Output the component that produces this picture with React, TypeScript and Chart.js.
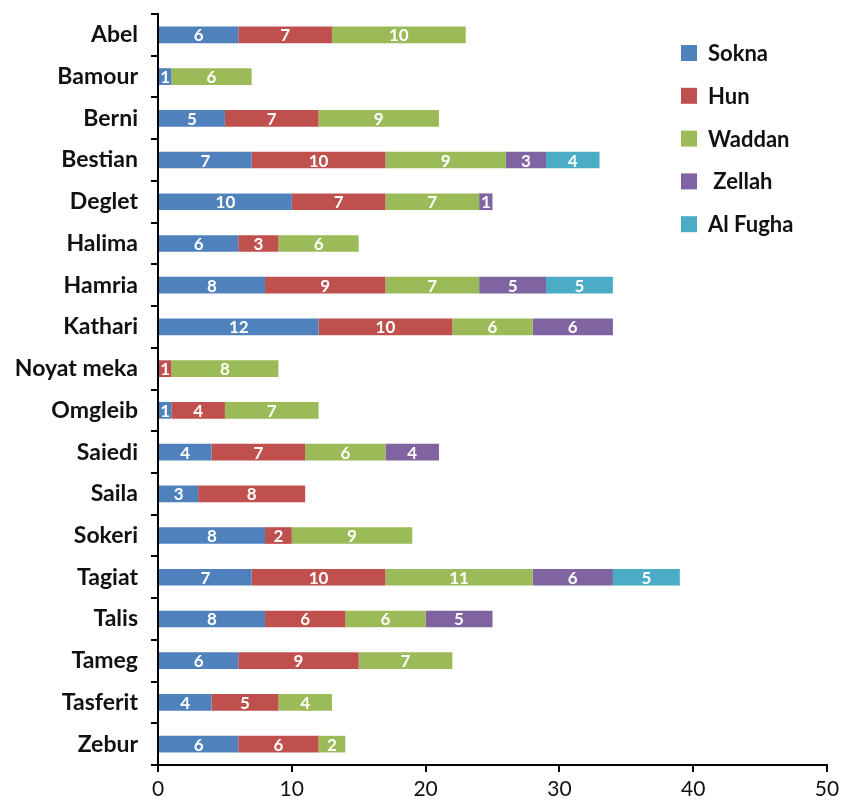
import React, { useEffect, useRef } from "react";
import { Chart, registerables } from "chart.js";

Chart.register(...registerables);

const categories = [
  "Abel", "Bamour", "Berni", "Bestian", "Deglet", "Halima", "Hamria", "Kathari",
  "Noyat meka", "Omgleib", "Saiedi", "Saila", "Sokeri", "Tagiat", "Talis", "Tameg",
  "Tasferit", "Zebur",
];

const sokna = [6, 1, 5, 7, 10, 6, 8, 12, null, 1, 4, 3, 8, 7, 8, 6, 4, 6];
const hun = [7, null, 7, 10, 7, 3, 9, 10, 1, 4, 7, 8, 2, 10, 6, 9, 5, 6];
const waddan = [10, 6, 9, 9, 7, 6, 7, 6, 8, 7, 6, null, 9, 11, 6, 7, 4, 2];
const zellah = [null, null, null, 3, 1, null, 5, 6, null, null, 4, null, null, 6, 5, null, null, null];
const alFugha = [null, null, null, 4, null, null, 5, null, null, null, null, null, null, 5, null, null, null, null];

const seriesNames = ["Sokna", "Hun", "Waddan", " Zellah", "Al Fugha"];
const seriesColors = ["#4F81BD", "#C0504D", "#9BBB59", "#8064A2", "#4BACC6"];
const xTicks = [0, 10, 20, 30, 40, 50];

const FONT = "Lato, 'Open Sans', sans-serif";

const segmentLabels = {
  id: "segmentLabels",
  afterDatasetsDraw(chart: any) {
    const ctx = chart.ctx;
    ctx.save();
    ctx.fillStyle = "#ffffff";
    ctx.font = `bold 17px ${FONT}`;
    ctx.textAlign = "center";
    ctx.textBaseline = "middle";
    chart.data.datasets.forEach((ds: any, di: number) => {
      const meta = chart.getDatasetMeta(di);
      meta.data.forEach((bar: any, i: number) => {
        const v = ds.data[i];
        if (v === null || v === undefined) return;
        const x = (bar.x + bar.base) / 2;
        ctx.fillText(String(v), x, bar.y + 1);
      });
    });
    ctx.restore();
  },
};

const innerLegend = {
  id: "innerLegend",
  afterDraw(chart: any) {
    const ctx = chart.ctx;
    ctx.save();
    ctx.font = `bold 22px ${FONT}`;
    ctx.textAlign = "left";
    ctx.textBaseline = "middle";
    chart.data.datasets.forEach((ds: any, i: number) => {
      const y = 53 + i * 42.8;
      ctx.fillStyle = ds.backgroundColor;
      ctx.fillRect(681, y - 8, 16, 16);
      ctx.fillStyle = "#111";
      ctx.fillText(ds.label, 708, y + 1);
    });
    ctx.restore();
  },
};

export default function App() {
  const ref = useRef<HTMLCanvasElement>(null);
  useEffect(() => {
    if (!ref.current) return;
    const allSeries = [sokna, hun, waddan, zellah, alFugha];
    const chart = new Chart(ref.current, {
      type: "bar",
      data: {
        labels: categories,
        datasets: allSeries.map((d, i) => ({
          label: seriesNames[i],
          data: d,
          backgroundColor: seriesColors[i],
          borderWidth: 0,
          barPercentage: 0.4,
          categoryPercentage: 1,
        })),
      },
      plugins: [segmentLabels, innerLegend],
      options: {
        indexAxis: "y",
        responsive: false,
        animation: false,
        layout: { padding: { top: 14, right: 32, left: 0, bottom: 0 } },
        plugins: {
          legend: { display: false },
          tooltip: { enabled: false },
        },
        scales: {
          x: {
            stacked: true,
            min: 0,
            max: 50,
            afterBuildTicks: (scale: any) => {
              scale.ticks = xTicks.map((v) => ({ value: v }));
            },
            afterFit: (scale: any) => {
              scale.height = 36;
              scale.paddingLeft = 0;
              scale.paddingRight = 0;
            },
            grid: {
              drawOnChartArea: false,
              drawTicks: true,
              tickLength: 7,
              color: "#000",
              lineWidth: 2,
            },
            border: { display: true, color: "#000", width: 2 },
            ticks: {
              color: "#111",
              font: { family: FONT, size: 21 },
              padding: 5,
            },
          },
          y: {
            stacked: true,
            afterFit: (scale: any) => {
              scale.width = 158;
              scale.paddingTop = 0;
              scale.paddingBottom = 0;
            },
            grid: {
              offset: true,
              drawOnChartArea: false,
              drawTicks: true,
              tickLength: 7,
              color: "#000",
              lineWidth: 2,
            },
            border: { display: true, color: "#000", width: 2 },
            ticks: {
              color: "#111",
              font: { family: FONT, size: 23, weight: "bold" },
              padding: 13,
            },
          },
        },
      },
    });
    return () => chart.destroy();
  }, []);
  return (
    <div style={{ position: "absolute", left: 0, top: 0, width: 859, height: 801, background: "#fff" }}>
      <canvas ref={ref} width={859} height={801} style={{ width: 859, height: 801 }} />
    </div>
  );
}
